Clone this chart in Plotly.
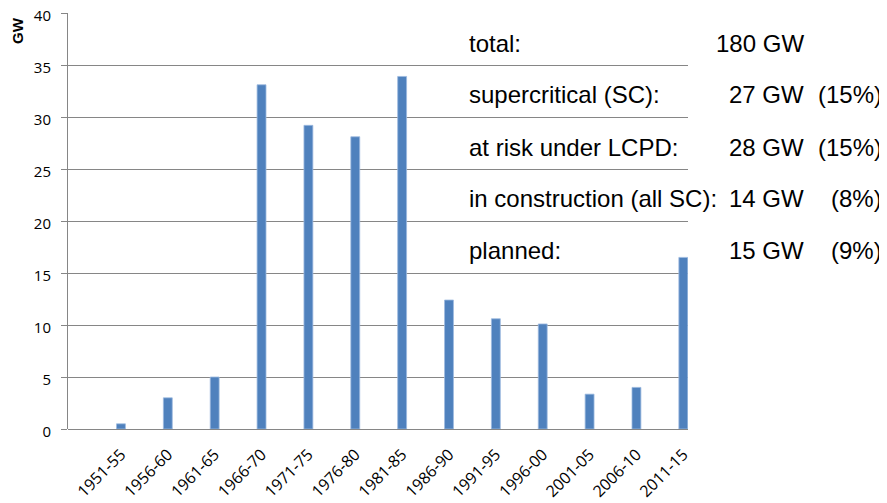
import plotly.graph_objects as go

periods = ["1951-55", "1956-60", "1961-65", "1966-70", "1971-75", "1976-80", "1981-85",
           "1986-90", "1991-95", "1996-00", "2001-05", "2006-10", "2011-15"]
capacity_gw = [0.5, 3.0, 5.0, 33.1, 29.2, 28.1, 33.9, 12.4, 10.6, 10.1, 3.35, 4.0, 16.5]

y_ticks = [0, 5, 10, 15, 20, 25, 30, 35, 40]

summary_labels = ["total:", "supercritical (SC):", "at risk under LCPD:",
                  "in construction (all SC):", "planned:"]
summary_values = ["180 GW", "27 GW", "28 GW", "14 GW", "15 GW"]
summary_shares = ["", "(15%)", "(15%)", "(8%)", "(9%)"]

# page has an 8px body margin; size the figure so it fits the 887x503 window
OFF = 8
W, H = 887 - OFF, 503 - OFF
PL, PR, PT, PB = 68, 688, 13, 429  # plot area in window pixels
L, T = PL - OFF, PT - OFF
R, B = W - (PR - OFF), H - (PB - OFF)
pw, ph = W - L - R, H - T - B

fig = go.Figure()
fig.add_trace(go.Bar(
    x=list(range(len(periods))), y=capacity_gw, width=0.19,
    marker=dict(color="#4F81BD", line=dict(color="#9DBAE0", width=0.8)),
    hoverinfo="y",
))

fig.update_layout(
    width=W, height=H, autosize=False,
    margin=dict(l=L, r=R, t=T, b=B, pad=0, autoexpand=False),
    paper_bgcolor="white", plot_bgcolor="white",
    showlegend=False,
    font=dict(family="Open Sans", color="#000000"),
    xaxis=dict(
        range=[-1.13, 12.1], automargin=False,
        tickmode="array", tickvals=list(range(len(periods))), ticktext=periods,
        tickangle=-45, tickfont=dict(size=16, family="Open Sans"),
        ticklabelstandoff=12, ticklabeloverflow="allow",
        showgrid=False, zeroline=False, showline=False, ticks="",
        fixedrange=True,
    ),
    yaxis=dict(
        range=[0, 40.001], tickvals=y_ticks, automargin=False,
        tickfont=dict(size=15, family="Open Sans"),
        ticklabelstandoff=7, ticklabelshift=3, ticklabeloverflow="allow",
        showgrid=True, gridcolor="#868686", gridwidth=1,
        zeroline=True, zerolinecolor="#868686", zerolinewidth=1,
        showline=True, linecolor="#868686", linewidth=1,
        ticks="outside", ticklen=6, tickcolor="#868686",
        fixedrange=True,
    ),
)

def px_x(px):
    return (px - PL) / pw

def px_y(py):
    return (PB - py) / ph

# axis title "GW"
fig.add_annotation(x=px_x(18), y=px_y(31), xref="paper", yref="paper",
                   text="<b>GW</b>", textangle=-90, showarrow=False,
                   font=dict(size=15, family="Liberation Sans"),
                   xanchor="center", yanchor="middle")

row_y = [44, 95, 147, 198, 250]
for lab, val, share, yy in zip(summary_labels, summary_values, summary_shares, row_y):
    fig.add_annotation(x=px_x(467), y=px_y(yy), xref="paper", yref="paper",
                       text=lab, showarrow=False, xanchor="left", yanchor="middle",
                       font=dict(size=24, family="Liberation Sans"))
    fig.add_annotation(x=px_x(806), y=px_y(yy), xref="paper", yref="paper",
                       text=val, showarrow=False, xanchor="right", yanchor="middle",
                       font=dict(size=24, family="Liberation Sans"))
    if share:
        fig.add_annotation(x=px_x(884), y=px_y(yy), xref="paper", yref="paper",
                           text=share, showarrow=False, xanchor="right", yanchor="middle",
                           font=dict(size=24, family="Liberation Sans"))

fig.write_html("out.html")
